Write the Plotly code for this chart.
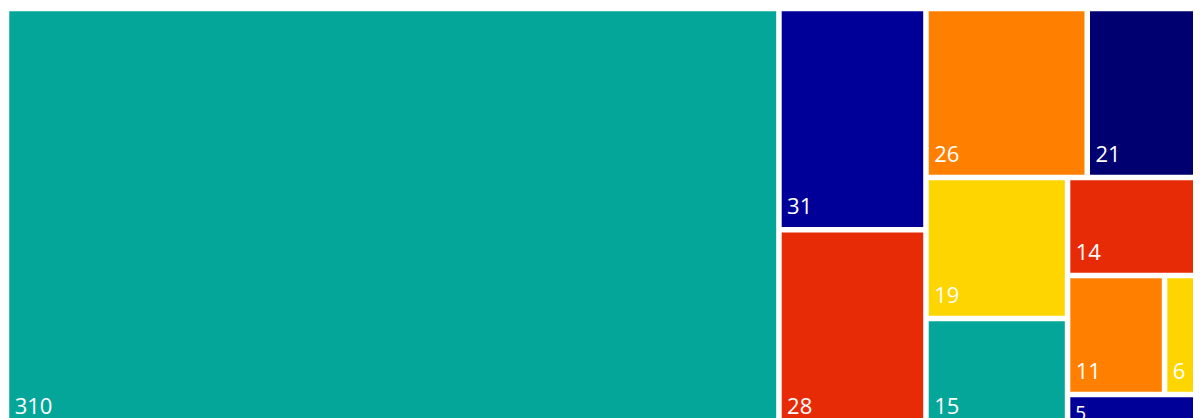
import plotly.graph_objects as go

# Leaf values, in layout order
leaf_ids = ["n310", "n31", "n28", "n26", "n21", "n19", "n15", "n14", "n11", "n6", "n5"]
leaf_values = [310, 31, 28, 26, 21, 19, 15, 14, 11, 6, 5]
leaf_parents = ["", "g1", "g1", "g3", "g3", "g5", "g5", "g6", "g7", "g7", "g6"]
leaf_colors = ["#05A69A", "#000099", "#E82B07", "#FF8000", "#000070", "#FFD500",
               "#05A69A", "#E82B07", "#FF8000", "#FFD500", "#000099"]
leaf_lift = [1, 1, 1, 1, 1, 1, 1, 1, 1, 1, 0]

# Grouping nodes that reproduce the tile arrangement
group_ids = ["g1", "g2", "g3", "g4", "g5", "g6", "g7"]
group_parents = ["", "", "g2", "g2", "g4", "g4", "g6"]

# order of children inside each group (layout order)
order = ["n310", "g1", "n31", "n28", "g2", "g3", "n26", "n21", "g4", "g5",
         "n19", "n15", "g6", "n14", "g7", "n11", "n6", "n5"]

parent_of = dict(zip(leaf_ids, leaf_parents))
parent_of.update(dict(zip(group_ids, group_parents)))
leaf_val = dict(zip(leaf_ids, leaf_values))
leaf_col = dict(zip(leaf_ids, leaf_colors))
leaf_lf = dict(zip(leaf_ids, leaf_lift))


def subtotal(node):
    if node in leaf_val:
        return leaf_val[node]
    return sum(subtotal(c) for c, p in parent_of.items() if p == node)


LIFT = "<span style='font-size:39px'>\u2006</span>"

ids, parents, values, colors, texts = [], [], [], [], []
for node in order:
    ids.append(node)
    parents.append(parent_of[node])
    values.append(subtotal(node))
    if node in leaf_val:
        colors.append(leaf_col[node])
        texts.append("\u2006" + str(leaf_val[node]) + (LIFT if leaf_lf[node] else ""))
    else:
        colors.append("#FFFFFF")
        texts.append("")

fig = go.Figure(go.Treemap(
    ids=ids,
    labels=ids,
    parents=parents,
    values=values,
    branchvalues="total",
    text=texts,
    texttemplate="%{text}",
    textposition="bottom left",
    textfont=dict(family="Open Sans", size=22, color="white"),
    marker=dict(colors=colors, line=dict(color="white", width=2.5),
                pad=dict(t=0, l=0, r=0, b=0)),
    tiling=dict(packing="slice-dice"),
    pathbar=dict(visible=False),
    sort=False,
    hoverinfo="none",
))

fig.update_layout(
    width=1208,
    height=420,
    margin=dict(l=0, r=0, t=2, b=0),
    paper_bgcolor="white",
    showlegend=False,
)

clip_js = (
    "var g=document.getElementById('{plot_id}');"
    "var w=g.parentElement;"
    "w.style.width='1193px';w.style.height='410px';w.style.overflow='hidden';"
    "document.documentElement.style.overflow='hidden';"
)

fig.write_html("out.html", post_script=clip_js)
